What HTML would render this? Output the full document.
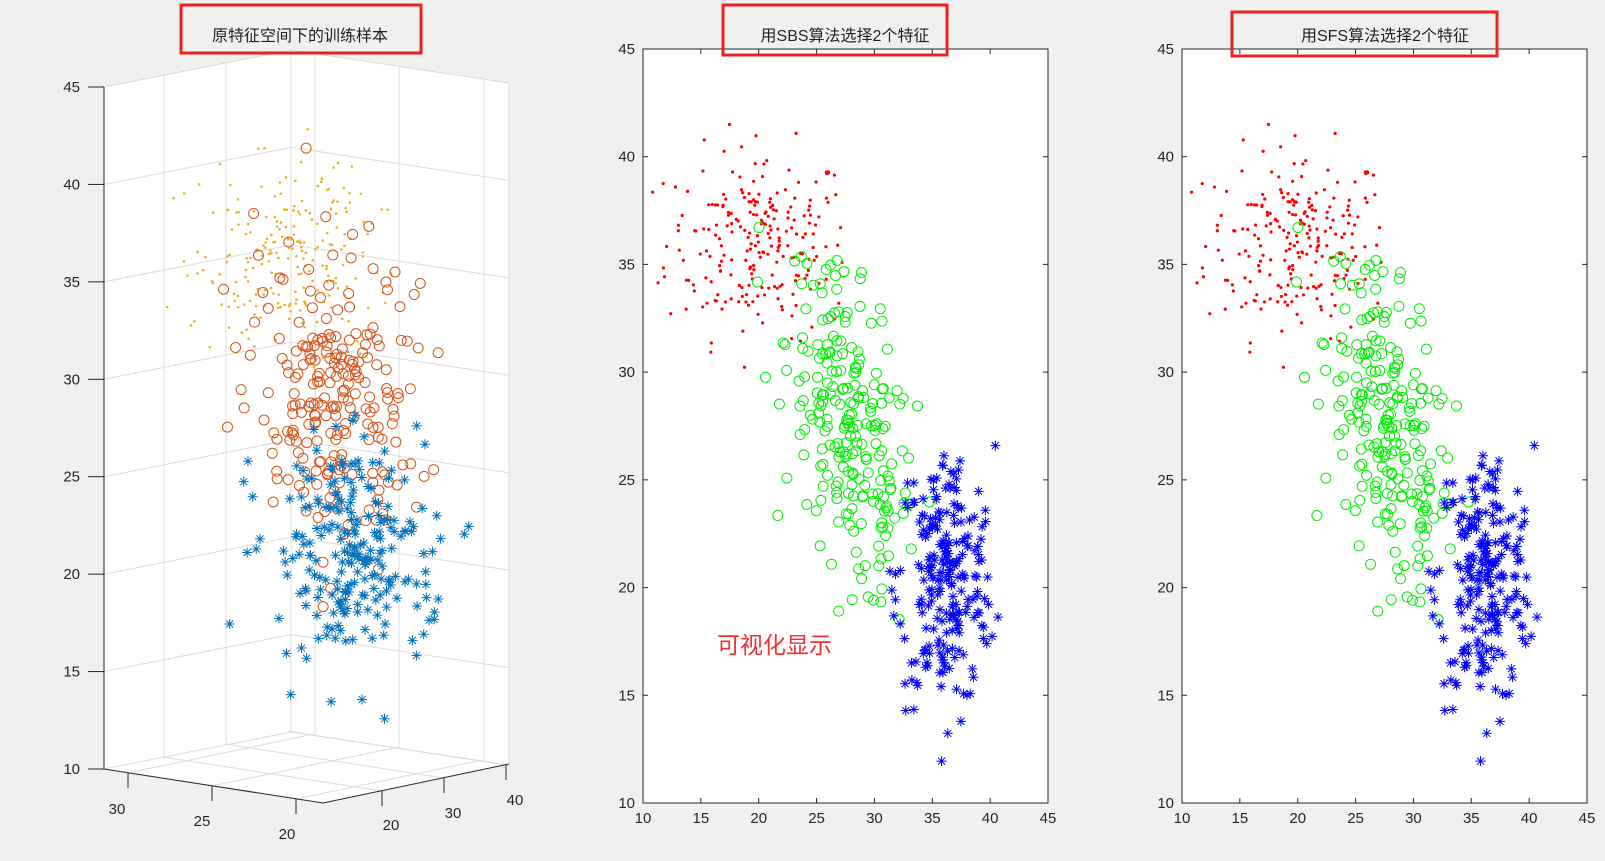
<!DOCTYPE html>
<html><head><meta charset="utf-8">
<style>
html,body{margin:0;padding:0;background:#f0f0f0;}
svg{display:block;font-family:"Liberation Sans","Noto Sans CJK SC",sans-serif;}
</style></head>
<body>
<svg id="s" width="1605" height="861" viewBox="0 0 1605 861" xmlns="http://www.w3.org/2000/svg">
<rect width="1605" height="861" fill="#f0f0f0"/>
<g id="g3d"></g>
<g id="gm"></g>
<g id="gr"></g>
<rect x="181" y="5" width="240" height="48" fill="none" stroke="#f02020" stroke-width="3"/>
<text x="300" y="41" font-size="16" text-anchor="middle" fill="#222">原特征空间下的训练样本</text>
<rect x="723" y="5" width="224" height="50" fill="none" stroke="#f02020" stroke-width="3"/>
<text x="845" y="41" font-size="16" text-anchor="middle" fill="#222">用SBS算法选择2个特征</text>
<rect x="1232" y="12" width="265" height="44" fill="none" stroke="#f02020" stroke-width="3"/>
<text x="1385" y="41" font-size="16" text-anchor="middle" fill="#222">用SFS算法选择2个特征</text>
<text x="717" y="653" font-size="23" fill="#f03030">可视化显示</text>
</svg>
<script>
var NS="http://www.w3.org/2000/svg";
function el(p,t,a,txt){var e=document.createElementNS(NS,t);for(var k in a)e.setAttribute(k,a[k]);if(txt!==undefined)e.textContent=txt;p.appendChild(e);return e;}
var seed=12345;function rnd(){seed=(seed*1103515245+12345)%2147483648;return seed/2147483648;}
function gn(){var u=rnd()||1e-9,v=rnd();return Math.sqrt(-2*Math.log(u))*Math.cos(2*Math.PI*v);}
var red=[],grn=[],blu=[];
while(red.length<230){var p=[20+gn()*4,36+gn()*2.2];if(p[0]>10.2&&p[0]<27.5&&p[1]>29&&p[1]<41.5)red.push(p);}
while(grn.length<230){var a=gn(),b=gn();var p=[28+a*2.8,27-a*2.2+b*3.4];if(p[0]>17&&p[0]<37&&p[1]>18&&p[1]<39)grn.push(p);}
while(blu.length<230){var p=[36.2+gn()*2.1,20.5+gn()*3.0];if(p[0]>31&&p[0]<41&&p[1]>11&&p[1]<27)blu.push(p);}
function star(g,x,y,c,r){el(g,'path',{d:'M'+(x-r)+' '+y+'h'+2*r+'M'+x+' '+(y-r)+'v'+2*r+'M'+(x-r*.7)+' '+(y-r*.7)+'l'+1.4*r+' '+1.4*r+'M'+(x-r*.7)+' '+(y+r*.7)+'l'+1.4*r+' '+(-1.4*r),stroke:c,'stroke-width':1,fill:'none'});}
function plot2d(gid,L){
 var g=document.getElementById(gid),T=49,B=803,W=405,H=754;
 el(g,'rect',{x:L,y:T,width:W,height:H,fill:'#fff',stroke:'#262626','stroke-width':1});
 for(var v=10;v<=45;v+=5){
  var x=L+(v-10)/35*W,y=B-(v-10)/35*H;
  el(g,'path',{d:'M'+x+' '+B+'v-5M'+x+' '+T+'v5M'+L+' '+y+'h5M'+(L+W)+' '+y+'h-5',stroke:'#262626'});
  el(g,'text',{x:x,y:B+20,'font-size':15,'text-anchor':'middle',fill:'#262626'},v);
  el(g,'text',{x:L-8,y:y+5,'font-size':15,'text-anchor':'end',fill:'#262626'},v);
 }
 function P(d){return [L+(d[0]-10)/35*W,B-(d[1]-10)/35*H];}
 red.forEach(function(d){var p=P(d);el(g,'circle',{cx:p[0],cy:p[1],r:1.6,fill:'#ff0000'});});
 grn.forEach(function(d){var p=P(d);el(g,'circle',{cx:p[0],cy:p[1],r:5,fill:'none',stroke:'#00ee00','stroke-width':1});});
 blu.forEach(function(d){var p=P(d);star(g,p[0],p[1],'#0000ff',5);});
}
plot2d('gm',643);plot2d('gr',1182);
var g=document.getElementById('g3d');
el(g,'polygon',{points:'104,87 291,50 509,83 509,764 323,803 104,769',fill:'#fff'});
var gc='#dcdcdc';
for(var z=10;z<=45;z+=5){var y=769-(z-10)/35*682;
 el(g,'polyline',{points:'104,'+y+' 291,'+(y-37)+' 509,'+(y-4),fill:'none',stroke:gc});}
[[164,-12],[226,-24],[291,-37]].forEach(function(a){el(g,'line',{x1:a[0],y1:769+a[1],x2:a[0],y2:87+a[1],stroke:gc});});
[[315,-34],[399,-21],[484,-8],[509,-4]].forEach(function(a){el(g,'line',{x1:a[0],y1:769+a[1],x2:a[0],y2:87+a[1],stroke:gc});});
[[128,773],[212,786],[296,799]].forEach(function(p){el(g,'line',{x1:p[0],y1:p[1],x2:p[0]+186,y2:p[1]-39,stroke:gc});});
[[382,791],[444,778],[506,765]].forEach(function(p){el(g,'line',{x1:p[0],y1:p[1],x2:p[0]-219,y2:p[1]-34,stroke:gc});});
el(g,'line',{x1:104,y1:87,x2:104,y2:769,stroke:'#262626'});
el(g,'polyline',{points:'104,769 323,803 509,764',fill:'none',stroke:'#262626'});
for(var z=10;z<=45;z+=5){var y=769-(z-10)/35*682;el(g,'line',{x1:88,y1:y,x2:104,y2:y,stroke:'#262626'});
 el(g,'text',{x:80,y:y+5,'font-size':15,'text-anchor':'end',fill:'#262626'},z);}
[[128,773,'30',117,814],[212,786,'25',202,826],[296,799,'20',287,839]].forEach(function(a){el(g,'line',{x1:a[0],y1:a[1],x2:a[0],y2:a[1]+15,stroke:'#262626'});el(g,'text',{x:a[3],y:a[4],'font-size':15,'text-anchor':'middle',fill:'#262626'},a[2]);});
[[382,791,'20',391,830],[444,778,'30',453,818],[506,765,'40',515,805]].forEach(function(a){el(g,'line',{x1:a[0],y1:a[1],x2:a[0],y2:a[1]+15,stroke:'#262626'});el(g,'text',{x:a[3],y:a[4],'font-size':15,'text-anchor':'middle',fill:'#262626'},a[2]);});
for(var i=0;i<230;i++){el(g,'circle',{cx:285+gn()*45,cy:255+gn()*48,r:1.3,fill:'#EDB120'});}
for(var i=0;i<230;i++){var a=gn();el(g,'circle',{cx:335+gn()*38,cy:395+a*75+gn()*10,r:5,fill:'none',stroke:'#D95319','stroke-width':1});}
for(var i=0;i<230;i++){star(g,350+gn()*40,550+gn()*58,'#0072BD',5);}
</script>
</body></html>
